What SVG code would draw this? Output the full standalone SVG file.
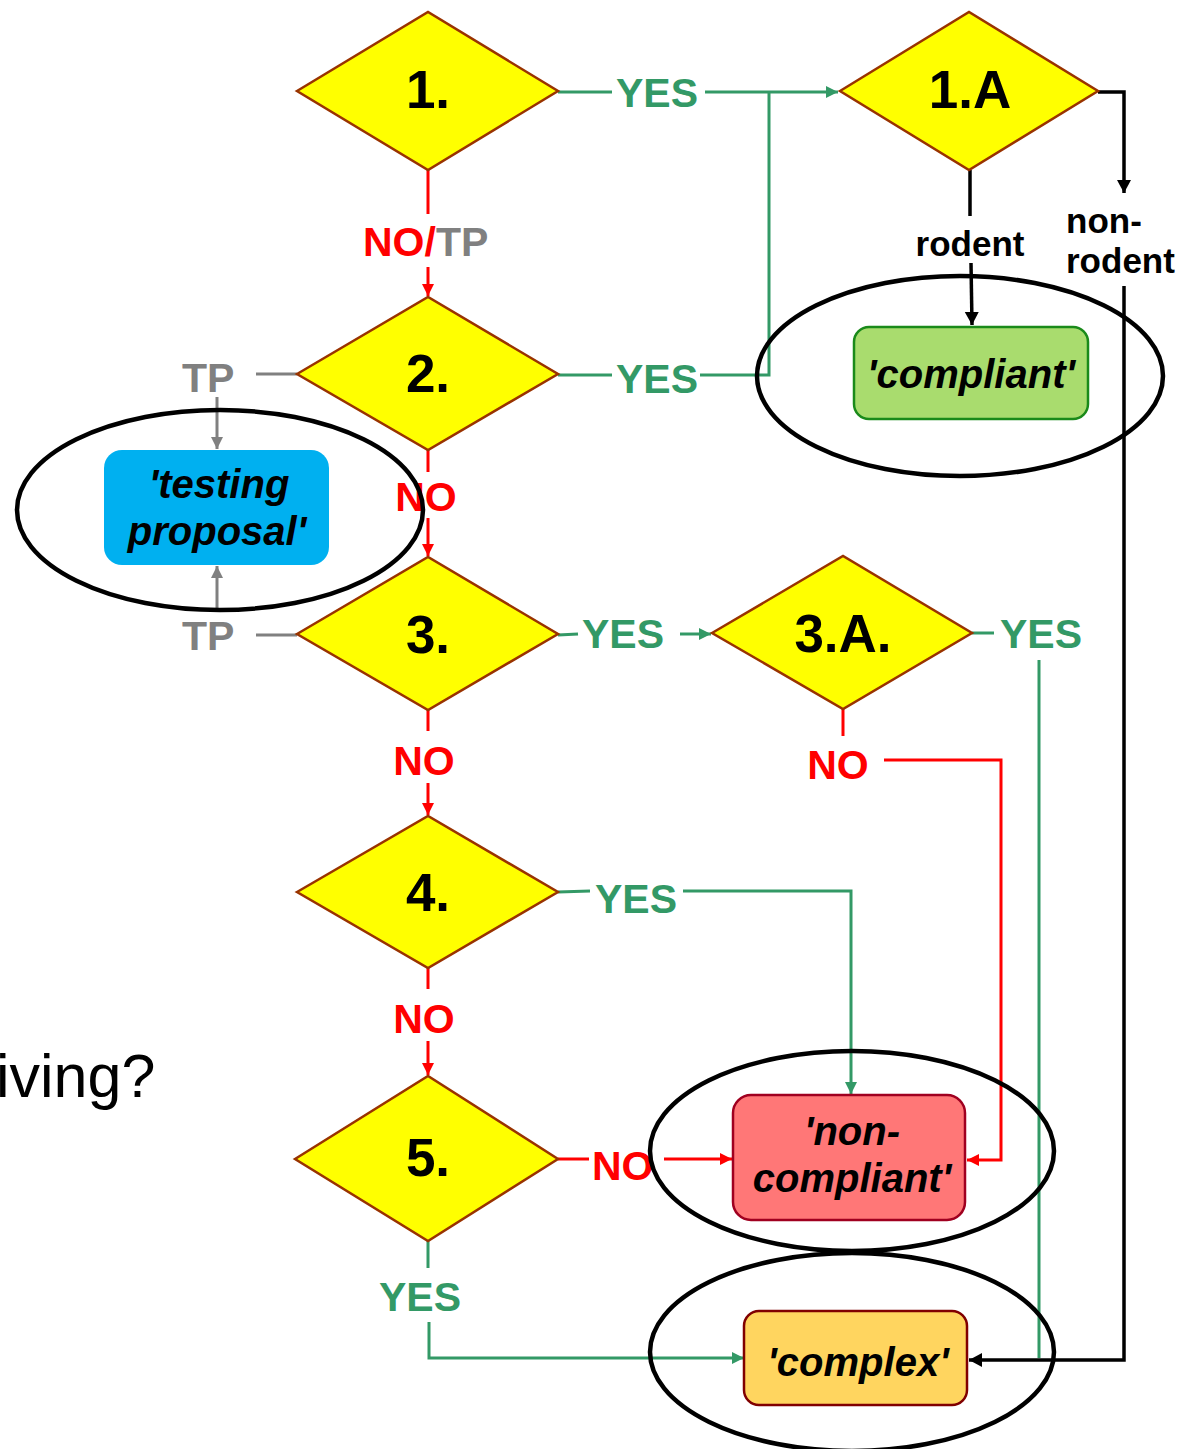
<svg xmlns="http://www.w3.org/2000/svg" width="1190" height="1449" viewBox="0 0 1190 1449">
<style>
.dia{fill:#ffff00;stroke:#993300;stroke-width:2.5}
.dl{font-family:"Liberation Sans",Arial,sans-serif;font-weight:bold;font-size:53px;fill:#000;text-anchor:middle}
.lb{font-family:"Liberation Sans",Arial,sans-serif;font-weight:bold;font-size:41px}
.g{fill:#339966}.r{fill:#ff0000}.gr{fill:#808080}.k{fill:#000}
.sm{font-family:"Liberation Sans",Arial,sans-serif;font-weight:bold;font-size:35px;fill:#000}
.bt{font-family:"Liberation Sans",Arial,sans-serif;font-weight:bold;font-style:italic;font-size:40px;fill:#000;text-anchor:middle}
.cg{fill:none;stroke:#339966;stroke-width:3}
.cr{fill:none;stroke:#ff0000;stroke-width:3}
.cgr{fill:none;stroke:#808080;stroke-width:3}
.ck{fill:none;stroke:#000;stroke-width:3.5}
.ell{fill:none;stroke:#000;stroke-width:4.5}
</style>
<defs>
<marker id="ag" markerUnits="userSpaceOnUse" markerWidth="14" markerHeight="14" refX="12" refY="6" orient="auto"><path d="M0,0 L12,6 L0,12 Z" fill="#339966"/></marker>
<marker id="ar" markerUnits="userSpaceOnUse" markerWidth="14" markerHeight="14" refX="12" refY="6" orient="auto"><path d="M0,0 L12,6 L0,12 Z" fill="#ff0000"/></marker>
<marker id="agr" markerUnits="userSpaceOnUse" markerWidth="14" markerHeight="14" refX="12" refY="6" orient="auto"><path d="M0,0 L12,6 L0,12 Z" fill="#808080"/></marker>
<marker id="ak" markerUnits="userSpaceOnUse" markerWidth="16" markerHeight="16" refX="13" refY="7" orient="auto"><path d="M0,0 L13,7 L0,14 Z" fill="#000"/></marker>
</defs>
<rect width="1190" height="1449" fill="#fff"/>

<text x="-4" y="1097" font-family="Liberation Sans, Arial, sans-serif" font-size="61" fill="#000">iving?</text>

<g id="connectors">
  <path class="cg" d="M558,92 H612"/>
  <path class="cg" d="M705,92 H838" marker-end="url(#ag)"/>
  <path class="cg" d="M558,375 H612"/>
  <path class="cg" d="M700,375 H769 V92"/>
  <path class="cr" d="M428,170 V214"/>
  <path class="cr" d="M428,267 V296" marker-end="url(#ar)"/>
  <path class="ck" d="M970,170 L970,216"/>
  <path class="ck" d="M971,263 L972,325" marker-end="url(#ak)"/>
  <path class="ck" d="M1098,92 H1124 V193" marker-end="url(#ak)"/>
  <path class="ck" d="M1124,286 V1360 H969" marker-end="url(#ak)"/>
  <path class="cgr" d="M256,374 H297"/>
  <path class="cgr" d="M217,397 V449" marker-end="url(#agr)"/>
  <path class="cgr" d="M256,635 H297"/>
  <path class="cgr" d="M217,609 V566" marker-end="url(#agr)"/>
  <path class="cr" d="M428,450 V472"/>
  <path class="cr" d="M428,518 V556" marker-end="url(#ar)"/>
  <path class="cg" d="M558,635 L578,634"/>
  <path class="cg" d="M680,634 H711" marker-end="url(#ag)"/>
  <path class="cg" d="M972,633 H994"/>
  <path class="cg" d="M1039,660 V1358"/>
  <path class="cr" d="M843,709 V736"/>
  <path class="cr" d="M884,760 H1001 V1160 H967" marker-end="url(#ar)"/>
  <path class="cr" d="M428,710 V731"/>
  <path class="cr" d="M428,783 V815" marker-end="url(#ar)"/>
  <path class="cg" d="M558,892 L590,891"/>
  <path class="cg" d="M683,891 H851 V1094" marker-end="url(#ag)"/>
  <path class="cr" d="M428,968 V989"/>
  <path class="cr" d="M428,1041 V1075" marker-end="url(#ar)"/>
  <path class="cr" d="M558,1159 H589"/>
  <path class="cr" d="M664,1159 H732" marker-end="url(#ar)"/>
  <path class="cg" d="M428,1241 V1268"/>
  <path class="cg" d="M429,1322 V1358 H744" marker-end="url(#ag)"/>
</g>

<g id="labels">
  <text class="lb g" x="616" y="107">YES</text>
  <text class="lb g" x="616" y="393">YES</text>
  <text class="lb" x="363" y="256"><tspan class="r">NO/</tspan><tspan class="gr">TP</tspan></text>
  <text class="lb gr" x="182" y="392">TP</text>
  <text class="lb gr" x="182" y="650">TP</text>
  <text class="lb r" x="426" y="511" text-anchor="middle">NO</text>
  <text class="lb g" x="582" y="648">YES</text>
  <text class="lb g" x="1000" y="648">YES</text>
  <text class="lb r" x="838" y="779" text-anchor="middle">NO</text>
  <text class="lb r" x="424" y="775" text-anchor="middle">NO</text>
  <text class="lb g" x="595" y="913">YES</text>
  <text class="lb r" x="424" y="1033" text-anchor="middle">NO</text>
  <text class="lb r" x="592" y="1180">NO</text>
  <text class="lb g" x="420" y="1311" text-anchor="middle">YES</text>
  <text class="sm" x="970" y="256" text-anchor="middle">rodent</text>
  <text class="sm" x="1066" y="233">non-</text>
  <text class="sm" x="1066" y="273">rodent</text>
</g>

<g id="n1"><polygon class="dia" points="297,91 428,12 558,91 428,170"/><text class="dl" x="428" y="108">1.</text></g>
<g id="n1A"><polygon class="dia" points="840,91 969,12 1098,91 969,170"/><text class="dl" x="970" y="108">1.A</text></g>
<g id="n2"><polygon class="dia" points="297,374 428,297 558,374 428,450"/><text class="dl" x="428" y="392">2.</text></g>
<g id="n3"><polygon class="dia" points="297,634 428,557 558,634 428,710"/><text class="dl" x="428" y="653">3.</text></g>
<g id="n3A"><polygon class="dia" points="712,633 843,556 972,633 843,709"/><text class="dl" x="843" y="652">3.A.</text></g>
<g id="n4"><polygon class="dia" points="297,892 428,816 558,892 428,968"/><text class="dl" x="428" y="911">4.</text></g>
<g id="n5"><polygon class="dia" points="295,1159 428,1076 558,1159 428,1241"/><text class="dl" x="428" y="1176">5.</text></g>

<g id="compliant"><rect x="854" y="327" width="234" height="92" rx="15" fill="#a9dc6e" stroke="#1a8a1a" stroke-width="2.5"/><text class="bt" x="971" y="388">'compliant'</text></g>
<g id="testing"><rect x="104" y="450" width="225" height="115" rx="18" fill="#00b0f0"/><text class="bt" x="219" y="498">'testing</text><text class="bt" x="217" y="545">proposal'</text></g>
<g id="noncompliant"><rect x="733" y="1095" width="232" height="125" rx="18" fill="#ff7777" stroke="#a00020" stroke-width="2.5"/><text class="bt" x="852" y="1145">'non-</text><text class="bt" x="852" y="1192">compliant'</text></g>
<g id="complex"><rect x="744" y="1311" width="223" height="94" rx="15" fill="#ffd55f" stroke="#800000" stroke-width="2.5"/><text class="bt" x="858" y="1376">'complex'</text></g>

<g id="ellipses">
  <ellipse class="ell" cx="960" cy="376" rx="203" ry="100"/>
  <ellipse class="ell" cx="220" cy="510" rx="203" ry="100"/>
  <ellipse class="ell" cx="852" cy="1151" rx="202" ry="100"/>
  <ellipse class="ell" cx="852" cy="1352" rx="202" ry="99"/>
</g>
</svg>
